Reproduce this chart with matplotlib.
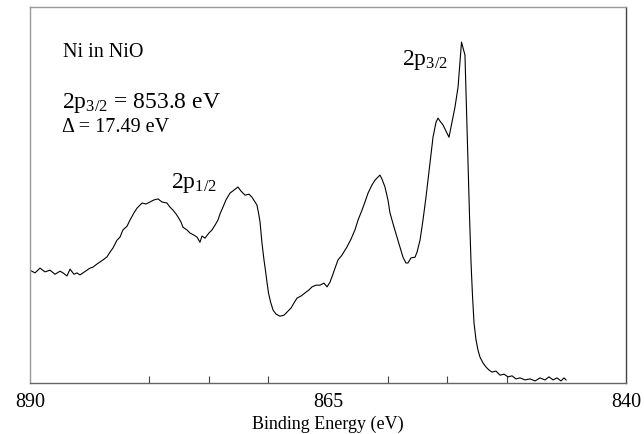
import numpy as np
import matplotlib.pyplot as plt

plt.rcParams['font.family'] = ['Liberation Serif', 'DejaVu Serif']
plt.rcParams['mathtext.fontset'] = 'custom'
plt.rcParams['mathtext.rm'] = 'Liberation Serif'
plt.rcParams['mathtext.it'] = 'Liberation Serif:italic'

# Ni 2p spectrum of NiO, binding energy (eV) and intensity (arb. units)
energy = [
    890.00, 889.58, 889.16, 888.74, 888.32, 887.90, 887.48, 887.23, 886.90, 886.64,
    886.31, 886.06, 885.81, 885.55, 885.22, 884.97, 884.72, 884.38, 884.13, 883.88,
    883.54, 883.29, 883.04, 882.70, 882.45, 882.20, 881.86, 881.61, 881.28, 881.02,
    880.60, 880.27, 879.93, 879.60, 879.26, 878.93, 878.51, 878.26, 878.00, 877.75,
    877.58, 877.33, 877.17, 876.83, 876.58, 876.25, 875.99, 875.74, 875.57, 875.32,
    874.99, 874.73, 874.48, 874.23, 874.06, 873.81, 873.56, 873.22, 872.89, 872.55,
    872.30, 871.96, 871.63, 871.38, 871.12, 870.96, 870.83, 870.70, 870.54, 870.37,
    870.25, 870.12, 869.99, 869.82, 869.61, 869.36, 869.03, 868.69, 868.44, 868.10,
    867.85, 867.60, 867.27, 866.93, 866.60, 866.34, 866.01, 865.67, 865.34, 865.08,
    864.83, 864.67, 864.41, 864.16, 863.83, 863.41, 863.07, 862.74, 862.48, 862.15,
    861.90, 861.64, 861.31, 861.06, 860.81, 860.64, 860.47, 860.22, 859.97, 859.80,
    859.46, 859.21, 858.96, 858.71, 858.46, 858.29, 858.04, 857.70, 857.53, 857.28,
    857.03, 856.78, 856.61, 856.36, 856.19, 855.94, 855.77, 855.60, 855.35, 855.10,
    854.85, 854.60, 854.35, 854.09, 853.93, 853.80, 853.51, 853.38, 853.26, 853.13,
    853.00, 852.88, 852.75, 852.58, 852.42, 852.25, 852.00, 851.75, 851.49, 851.24,
    850.91, 850.57, 850.23, 849.90, 849.56, 849.23, 848.89, 848.47, 848.05, 847.63,
    847.22, 846.80, 846.46, 846.12, 845.79, 845.45, 845.20, 845.03,
]
intensity = [
    33.1, 32.3, 33.7, 32.6, 33.1, 31.9, 32.8, 32.3, 31.4, 33.4,
    31.9, 32.3, 31.7, 32.3, 33.1, 33.7, 34.0, 34.9, 35.5, 36.1,
    37.0, 38.4, 39.6, 41.9, 42.8, 44.9, 46.0, 47.8, 49.9, 51.3,
    52.8, 52.5, 53.1, 53.7, 54.0, 53.1, 52.8, 51.6, 50.7, 49.6,
    48.7, 47.2, 45.7, 44.9, 44.0, 43.4, 42.8, 41.3, 43.1, 42.5,
    44.0, 44.9, 46.3, 47.8, 49.6, 51.6, 53.7, 55.7, 56.6, 57.5,
    56.3, 55.1, 55.4, 54.5, 53.1, 52.2, 49.9, 47.2, 41.1, 36.1,
    33.1, 29.6, 26.4, 23.8, 21.4, 20.2, 19.6, 19.9, 20.8, 22.0,
    23.5, 24.9, 25.5, 26.4, 27.3, 28.2, 28.7, 28.7, 29.3, 28.2,
    29.6, 31.1, 33.7, 36.1, 37.5, 39.9, 42.2, 44.9, 47.8, 50.7,
    53.1, 55.7, 58.1, 59.5, 60.4, 61.0, 59.8, 57.5, 53.7, 49.9,
    45.7, 42.8, 39.9, 36.9, 35.2, 35.2, 36.7, 36.9, 38.4, 41.9,
    47.8, 54.5, 59.5, 66.9, 72.1, 76.5, 77.7, 76.8, 75.7, 73.9,
    72.1, 76.5, 80.9, 86.8, 94.1, 100.0, 96.2, 80.1, 64.5, 49.3,
    35.2, 25.8, 17.6, 12.6, 9.7, 7.6, 5.9, 4.7, 3.8, 3.2,
    3.5, 2.3, 2.6, 1.8, 2.1, 1.2, 1.5, 0.9, 1.2, 0.6,
    1.5, 0.9, 1.8, 0.9, 1.5, 0.6, 1.5, 0.9,
]

label_ticks = [890, 865, 840]
minor_ticks = [880, 875, 870, 865, 860, 855, 850]

fig = plt.figure(figsize=(6.44, 4.34), dpi=100)
ax = fig.add_axes([30 / 644, 51 / 434, 596 / 644, 376 / 434])

ax.plot(energy, intensity, color='black', linewidth=0.8)

ax.set_xlim(890, 840)
ax.set_ylim(0, 110.3)
ax.set_yticks([])
ax.set_xticks(label_ticks)
ax.set_xticklabels([str(t) for t in label_ticks])
ax.set_xticks(minor_ticks, minor=True)
ax.tick_params(axis='x', which='major', length=0, pad=7, labelsize=14.5)
ax.tick_params(axis='x', which='minor', direction='in', length=5, width=0.8, color='#444444')

# axis title sits right at the bottom edge of the figure
fig.text(328 / 644, 1 / 434, 'Binding Energy (eV)', fontsize=13, ha='center', va='bottom')

for side, col in [('left', '#999999'), ('top', '#999999'), ('right', '#444444'), ('bottom', '#666666')]:
    ax.spines[side].set_color(col)
    ax.spines[side].set_linewidth(1.0)

# annotations, placed in axes pixels
def px(x, y):
    return ((x - 30) / 596, (383 - y) / 376)

ax.text(*px(63, 57), 'Ni in NiO', transform=ax.transAxes, fontsize=14.5, va='baseline')
ax.text(*px(62, 108), r'2p$_{\mathrm{3/2}}$ = 853.8 eV', transform=ax.transAxes,
        fontsize=17, va='baseline')
ax.text(*px(62, 132), '\u0394 = 17.49 eV', transform=ax.transAxes, fontsize=14.5, va='baseline')
ax.text(*px(171, 188), r'2p$_{\mathrm{1/2}}$', transform=ax.transAxes, fontsize=17, va='baseline')
ax.text(*px(402, 65), r'2p$_{\mathrm{3/2}}$', transform=ax.transAxes, fontsize=17, va='baseline')

fig.savefig('out.png', dpi=100)
